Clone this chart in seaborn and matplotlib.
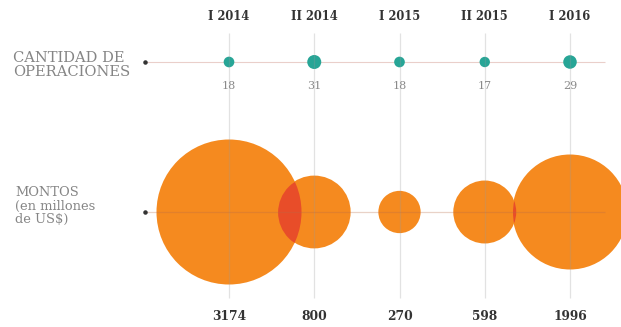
import numpy as np
import pandas as pd
import matplotlib
matplotlib.use("Agg")
import matplotlib.pyplot as plt
from matplotlib.path import Path
from matplotlib.transforms import IdentityTransform
import seaborn as sns

# ---- data ----
periods = ["I 2014", "II 2014", "I 2015", "II 2015", "I 2016"]
operaciones = [18, 31, 18, 17, 29]
montos = [3174, 800, 270, 598, 1996]
row_label_ops = "CANTIDAD DE\nOPERACIONES"
row_label_montos = "MONTOS\n(en millones\nde US$)"

# ---- style ----
ORANGE = "#F58A1F"
RED = "#E84D29"
TEAL = "#27A596"
DPI = 100
W, H = 621, 327

sns.set_theme(style="white")
plt.rcParams["font.family"] = ["DejaVu Serif", "DejaVu Sans"]

fig = plt.figure(figsize=(W / DPI, H / DPI), dpi=DPI)
ax = fig.add_axes([0, 0, 1, 1])

n = len(periods)
pos = np.arange(n)
df = pd.DataFrame({"pos": pos, "periodo": periods,
                   "operaciones": operaciones, "montos": montos})
df["row_ops"] = 1.0
df["row_montos"] = 0.0

# layout: pixel mapping
x_first_px, x_last_px = 229, 570
px_per_x = (x_last_px - x_first_px) / (n - 1)
y_ops_px, y_mon_px = 62, 212
px_per_y = (y_mon_px - y_ops_px)
ax.set_xlim(-x_first_px / px_per_x, (W - x_first_px) / px_per_x)
ax.set_ylim(-(H - y_mon_px) / px_per_y, 1 + y_ops_px / px_per_y)
ax.axis("off")

def px2x(px):
    return (px - x_first_px) / px_per_x

def py2y(py):
    return (y_mon_px - py) / px_per_y

# bubble sizes (area proportional)
r_max_px = 72.5
s_max_mon = (2 * r_max_px * 72 / DPI) ** 2
vmax_mon = max(montos)
r_max_ops = 7.0
s_max_ops = (2 * r_max_ops * 72 / DPI) ** 2
vmax_ops = max(operaciones)

# guide lines
line_x0, line_x1 = px2x(145), px2x(605)
ax.vlines(pos, py2y(298), py2y(33), color="#9a9a9a", alpha=0.28, lw=0.9, zorder=5)
ax.hlines(1.0, line_x0, line_x1, color="#d9a9a0", alpha=0.55, lw=0.8, zorder=1)
ax.hlines(0.0, line_x0, line_x1, color="#b86a48", alpha=0.3, lw=0.9, zorder=5)
ax.scatter([line_x0, line_x0], [1.0, 0.0], s=5, color="#333333", zorder=6)

# bubbles: montos
sns.scatterplot(data=df, x="pos", y="row_montos", size="montos",
                sizes=(0, s_max_mon), size_norm=(0, vmax_mon),
                color=ORANGE, linewidth=0, legend=False, ax=ax, zorder=2)

# overlaps between neighbouring bubbles in red
for i in range(n - 1):
    sns.scatterplot(data=df.iloc[[i + 1]], x="pos", y="row_montos", size="montos",
                    sizes=(0, s_max_mon), size_norm=(0, vmax_mon),
                    color=RED, linewidth=0, legend=False, ax=ax, zorder=3)
    coll = ax.collections[-1]
    cx, cy = ax.transData.transform((pos[i], 0.0))
    r_px = np.sqrt(montos[i] / vmax_mon * s_max_mon) / 2 * DPI / 72
    clip = Path.circle((cx, cy), r_px)
    coll.set_clip_path(clip, IdentityTransform())

# dots: operaciones
sns.scatterplot(data=df, x="pos", y="row_ops", size="operaciones",
                sizes=(0, s_max_ops), size_norm=(0, vmax_ops),
                color=TEAL, linewidth=0, legend=False, ax=ax, zorder=4)
ax.set_xlabel("")
ax.set_ylabel("")

pt = 72 / DPI
for i in range(n):
    ax.annotate(periods[i], (pos[i], 1.0), xytext=(0, 46 * pt), textcoords="offset points",
                ha="center", va="center", fontsize=8.3, fontweight="bold", color="#333333")
    ax.annotate(str(operaciones[i]), (pos[i], 1.0), xytext=(0, -24 * pt), textcoords="offset points",
                ha="center", va="center", fontsize=8, color="#8a8a8a")
    ax.annotate(str(montos[i]), (pos[i], 0.0), xytext=(0, -104 * pt), textcoords="offset points",
                ha="center", va="center", fontsize=8.8, fontweight="bold", color="#333333")

ax.text(px2x(13), py2y(65), row_label_ops, ha="left", va="center",
        fontsize=10.6, color="#858585", linespacing=1.0)
ax.text(px2x(15), py2y(206), row_label_montos, ha="left", va="center",
        fontsize=9.4, color="#858585", linespacing=1.05)

fig.savefig("out.png", dpi=DPI)
